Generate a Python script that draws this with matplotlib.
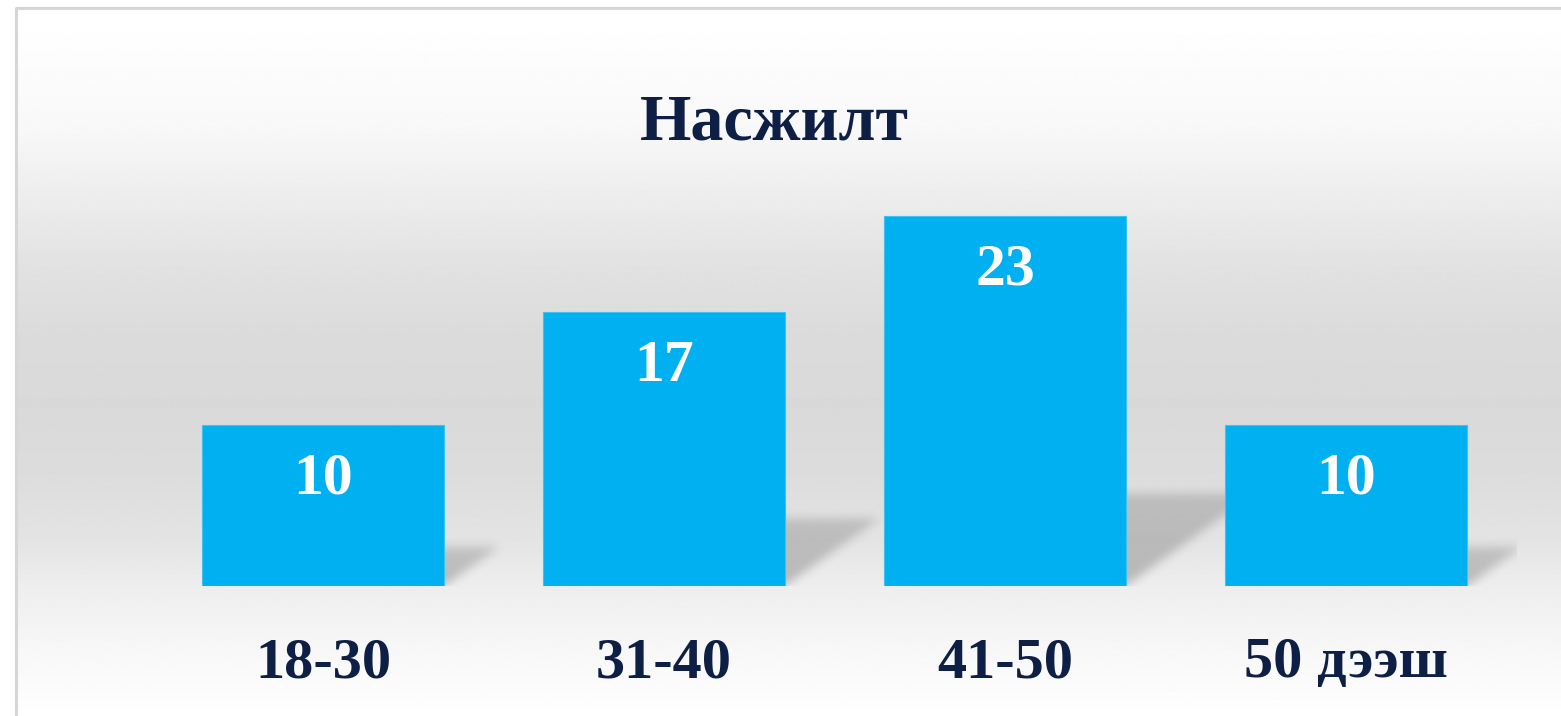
import numpy as np
import matplotlib
matplotlib.use("Agg")
import matplotlib.pyplot as plt

categories = ["18-30", "31-40", "41-50", "50 дээш"]
values = [10, 17, 23, 10]
title = "Насжилт"

W, H, DPI = 1561, 716, 100
fig = plt.figure(figsize=(W / DPI, H / DPI), dpi=DPI)
fig.patch.set_facecolor("white")

# background gradient panel
bg = fig.add_axes([0, 0, 1, 1], zorder=0)
bg.set_xlim(0, W)
bg.set_ylim(H, 0)
bg.axis("off")
ys = np.array([0, 8, 60, 120, 190, 260, 330, 400, 470, 540, 586, 640, 690, 716])
gs = np.array([255, 255, 252, 248, 237, 226, 219, 217, 220, 228, 238, 246, 252, 255])
yy = np.arange(H)
col = np.interp(yy, ys, gs) / 255.0
img = np.repeat(col[:, None], 2, axis=1)
bg.imshow(img, cmap="gray", vmin=0, vmax=1, extent=[17, W, H, 8], aspect="auto",
          interpolation="bilinear")
bg.plot([16.5, 16.5], [7, H], color="#d6d6d6", lw=2.2, solid_capstyle="butt")
bg.plot([16, W], [7.5, 7.5], color="#d6d6d6", lw=2.2, solid_capstyle="butt")

# main axes
left_px, right_px = 152.5, 1516.5
base_px = 586
ppu = 16.1
ymax = 30
top_px = base_px - ymax * ppu
ax = fig.add_axes([left_px / W, (H - base_px) / H, (right_px - left_px) / W,
                   (base_px - top_px) / H], zorder=1)
ax.set_xlim(-0.5, len(values) - 0.5)
ax.set_ylim(0, ymax)
ax.axis("off")
ax.patch.set_alpha(0)

bar_w = 0.71
x = np.arange(len(values))

# shadows (blurred parallelograms)
def blur1d(a, k, axis):
    kern = np.ones(k) / k
    return np.apply_along_axis(lambda m: np.convolve(m, kern, mode="same"), axis, a)

for xi, v in zip(x, values):
    x0, x1 = xi - bar_w / 2, xi + bar_w / 2
    dx = 0.0165 * v
    dy = 0.25 * v
    ex0, ex1 = x0, x1 + dx + 0.1
    ey0, ey1 = -0.8, dy + 1.4
    nx = int((ex1 - ex0) * 341)
    ny = int((ey1 - ey0) * ppu)
    gx = np.linspace(ex0, ex1, nx)
    gy = np.linspace(ey0, ey1, ny)
    GX, GY = np.meshgrid(gx, gy)
    t = GY / dy
    inside = (GY >= 0) & (GY <= dy) & (GX >= x0 + dx * t) & (GX <= x1 + dx * t)
    m = inside.astype(float)
    for _ in range(2):
        m = blur1d(m, 11, 1)
        m = blur1d(m, 11, 0)
    fade = np.clip(1.0 - 0.3 * np.clip(GY / dy, 0, 1), 0, 1)
    a = m * fade * 0.30
    rgba = np.zeros((ny, nx, 4))
    rgba[..., :3] = 0.25
    rgba[..., 3] = a
    ax.imshow(rgba, extent=[ex0, ex1, ey0, ey1], origin="lower", aspect="auto",
              zorder=1, interpolation="bilinear")

ax.set_xlim(-0.5, len(values) - 0.5)
ax.set_ylim(0, ymax)

bars = ax.bar(x, values, width=bar_w, color="#00B0F0", edgecolor="#3dc3f3",
              linewidth=0.8, zorder=3)

font = dict(family=["Liberation Serif", "DejaVu Serif"], weight="bold")
for xi, v in zip(x, values):
    ax.annotate(str(v), xy=(xi, v), xytext=(0, -69 * 72 / DPI), textcoords="offset points",
                ha="center", va="baseline", color="white", fontsize=43, zorder=5,
                annotation_clip=False, **font)
for xi, c in zip(x, categories):
    ax.annotate(c, xy=(xi, 0), xytext=(0, -91 * 72 / DPI), textcoords="offset points",
                ha="center", va="baseline", color="#0E1F45", fontsize=42,
                annotation_clip=False, **font)

fig.text(774 / W, 1 - 139 / H, title, ha="center", va="baseline", color="#0E1F45",
         fontsize=47.5, zorder=5, **font)

fig.savefig("out.png", dpi=DPI)
